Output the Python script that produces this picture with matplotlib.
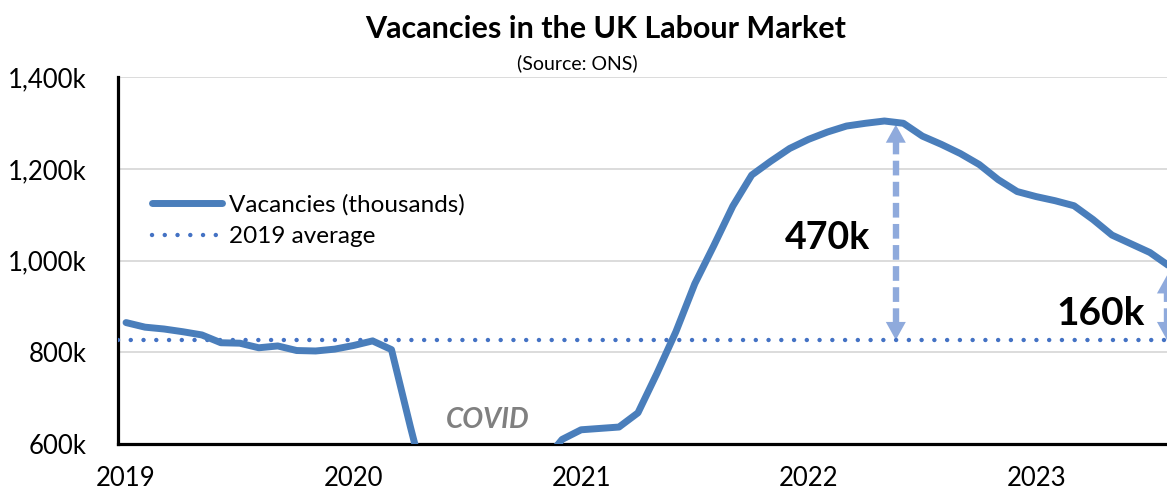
import matplotlib
matplotlib.use("Agg")
import matplotlib.pyplot as plt
from matplotlib.ticker import FuncFormatter

plt.rcParams['font.family'] = ['Lato', 'DejaVu Sans']

# monthly vacancies (thousands), Jan 2019 .. Aug 2023
vacancies = [865, 855, 851, 845, 838, 821, 820, 810, 814, 804, 803, 807,
             815, 825, 806, 637, 476, 343, 370, 434, 491, 525, 560, 610,
             631, 634, 637, 668, 754, 845, 950, 1033, 1119, 1187, 1217, 1245,
             1265, 1281, 1294, 1300, 1305, 1300, 1272, 1254, 1234, 1210, 1177, 1151,
             1140, 1131, 1120, 1090, 1056, 1037, 1018, 989]
avg_2019 = 827
year_labels = ["2019", "2020", "2021", "2022", "2023"]
gap_labels = ["470k", "160k"]
gap_top = [1297, 968]
gap_month = [40.6, 54.9]

months = list(range(len(vacancies)))

fig = plt.figure(figsize=(11.67, 4.90), dpi=100)
ax = fig.add_axes([0.1007, 0.0939, 0.909, 0.748])

ax.axhline(avg_2019, color="#4472C4", lw=3.2, ls=(0, (0.01, 2.86)),
           dash_capstyle="round", zorder=3, label="2019 average")
ax.plot(months, vacancies, color="#4A7EBB", lw=5, solid_capstyle="round",
        solid_joinstyle="round", zorder=4, label="Vacancies (thousands)")

# dashed double arrows showing the gap above the 2019 average
arrow_col = "#8FAADC"
for xm, top, lab in zip(gap_month, gap_top, gap_labels):
    head = 36
    ax.plot([xm, xm], [avg_2019 + head, top - head], color=arrow_col, lw=4.6,
            ls=(0, (2.3, 1.0)), zorder=2, clip_on=False)
    for tip, base in [(top, top - head - 2), (avg_2019, avg_2019 + head + 2)]:
        ax.annotate("", xy=(xm, tip), xytext=(xm, base),
                    arrowprops=dict(arrowstyle="-|>,head_length=0.65,head_width=0.36",
                                    mutation_scale=20, lw=0, color=arrow_col,
                                    shrinkA=0, shrinkB=0), zorder=2)

ax.text(37.0, 1050, gap_labels[0], fontsize=27, fontweight="bold", ha="center", va="center")
ax.text(51.4, 885, gap_labels[1], fontsize=28, fontweight="bold", ha="center", va="center")
ax.text(19.1, 653, "COVID", fontsize=20, fontweight="bold", fontstyle="italic",
        color="#808080", ha="center", va="center")

ax.set_xlim(-0.45, 55.5)
ax.set_ylim(600, 1400)
ax.set_yticks([600, 800, 1000, 1200, 1400])
ax.yaxis.set_major_formatter(FuncFormatter(lambda v, p: "{:,}k".format(int(v))))
ax.set_xticks([0, 12, 24, 36, 48])
ax.set_xticklabels(year_labels)
ax.tick_params(axis="both", length=0, labelsize=18.5)
ax.tick_params(axis="y", pad=22)
ax.tick_params(axis="x", pad=16)

ax.grid(axis="y", color="#D9D9D9", lw=1.3, zorder=0)
ax.set_axisbelow(True)
for s in ["top", "right"]:
    ax.spines[s].set_visible(False)
for s in ["left", "bottom"]:
    ax.spines[s].set_color("black")
    ax.spines[s].set_linewidth(2.3)

handles, labels = ax.get_legend_handles_labels()
ax.legend(handles[::-1], labels[::-1], loc="center left", bbox_to_anchor=(0.0325, 0.61),
          frameon=False, fontsize=17.5, handlelength=2.9, handletextpad=0.25,
          borderpad=0, borderaxespad=0, labelspacing=0.45)

fig.text(0.519, 0.94, "Vacancies in the UK Labour Market", fontsize=22,
         fontweight="bold", ha="center", va="center")
fig.text(0.495, 0.872, "(Source: ONS)", fontsize=14, ha="center", va="center")

fig.savefig("out.png", dpi=100)
